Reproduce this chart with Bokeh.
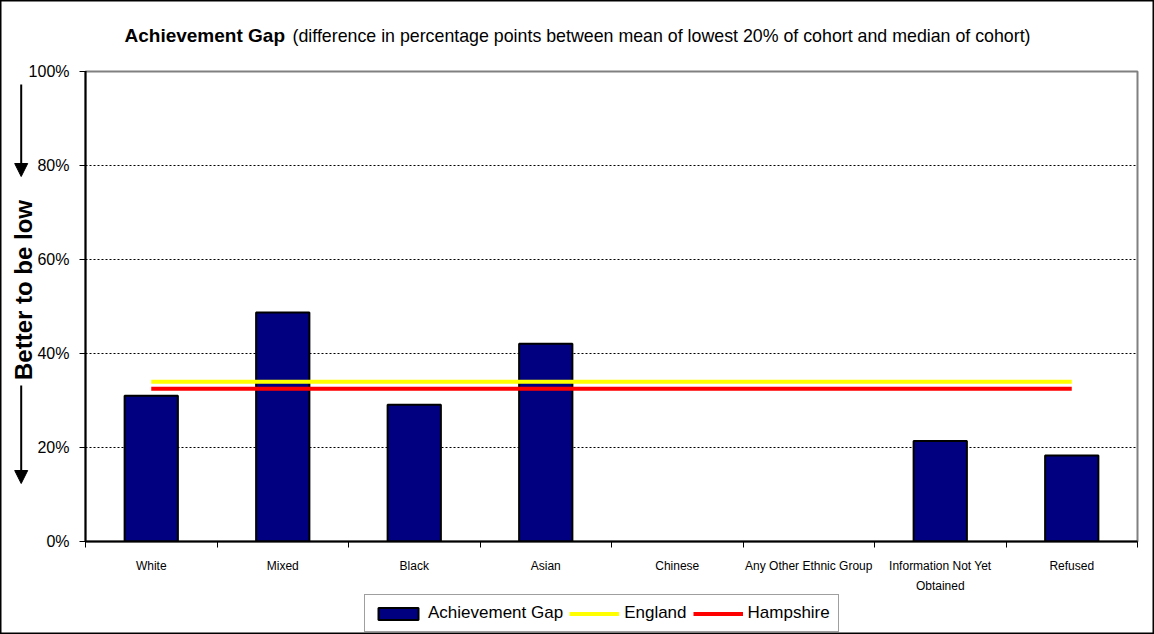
import numpy as np
from bokeh.plotting import figure
from bokeh.models import (Range1d, FixedTicker, PrintfTickFormatter, Label, Arrow,
                          NormalHead, Legend, LegendItem)
from bokeh.embed import file_html
from bokeh.resources import INLINE

# ---- data ----
categories = ["White", "Mixed", "Black", "Asian", "Chinese",
              "Any Other Ethnic Group", "Information Not Yet Obtained", "Refused"]
tick_labels = ["White", "Mixed", "Black", "Asian", "Chinese",
               "Any Other Ethnic Group", "Information Not Yet\nObtained", "Refused"]
achievement_gap = [31.0, 48.7, 29.1, 42.1, np.nan, np.nan, 21.4, 18.3]
england_value = 34.0
hampshire_value = 32.5
y_ticks = [0, 20, 40, 60, 80, 100]
series_names = ["Achievement Gap", "England", "Hampshire"]

FONT = "Liberation Sans"
W, H = 1154, 634
n = len(categories)
xpos = np.arange(n) + 0.5

BAR_STYLE = dict(fill_color="#000080", line_color="black", line_width=2)
ENG_STYLE = dict(line_color="#FFFF00", line_width=4)
HAM_STYLE = dict(line_color="#FF0000", line_width=4)

# ---------------- main chart ----------------
p = figure(width=W, height=H, x_range=Range1d(0, n), y_range=Range1d(0, 100),
           output_backend="svg", toolbar_location=None,
           min_border_left=85, min_border_right=17, min_border_top=71, min_border_bottom=93)
p.background_fill_color = "white"
p.border_fill_color = "white"
p.outline_line_color = "#808080"
p.outline_line_width = 2

p.vbar(x=xpos, top=achievement_gap, width=0.405, **BAR_STYLE)
p.line(x=xpos, y=[england_value] * n, **ENG_STYLE)
p.line(x=xpos, y=[hampshire_value] * n, **HAM_STYLE)

p.yaxis.ticker = FixedTicker(ticks=y_ticks)
p.yaxis.formatter = PrintfTickFormatter(format="%d%%")
p.yaxis.major_label_text_font = FONT
p.yaxis.major_label_text_font_size = "16px"
p.yaxis.major_label_text_color = "black"
p.yaxis.major_tick_out = 6
p.yaxis.major_tick_in = 1
p.yaxis.major_tick_line_color = "black"
p.yaxis.minor_tick_line_color = None
p.yaxis.major_label_standoff = 10
p.yaxis.axis_line_color = "black"
p.yaxis.axis_line_width = 2

p.xaxis.ticker = FixedTicker(ticks=list(xpos), minor_ticks=list(range(n + 1)))
p.xaxis.major_label_overrides = {float(x): lab for x, lab in zip(xpos, tick_labels)}
p.xaxis.major_tick_line_color = None
p.xaxis.major_tick_out = 6
p.xaxis.major_tick_in = 0
p.xaxis.minor_tick_out = 6
p.xaxis.minor_tick_in = 0
p.xaxis.minor_tick_line_color = "black"
p.xaxis.major_label_text_font = FONT
p.xaxis.major_label_text_font_size = "12px"
p.xaxis.major_label_text_color = "black"
p.xaxis.major_label_text_line_height = 1.45
p.xaxis.major_label_standoff = 11
p.xaxis.axis_line_color = "black"
p.xaxis.axis_line_width = 2

p.xgrid.grid_line_color = None
p.ygrid.grid_line_color = "black"
p.ygrid.grid_line_dash = "2 2"
p.ygrid.grid_line_width = 1

# ---------------- overlay (title, side note, legend, border) ----------------
o = figure(width=W, height=H, x_range=Range1d(0, W), y_range=Range1d(H, 0),
           x_axis_type=None, y_axis_type=None,
           output_backend="svg", toolbar_location=None,
           min_border=0, min_border_left=0, min_border_right=0,
           min_border_top=0, min_border_bottom=0)
o.background_fill_alpha = 0
o.border_fill_alpha = 0
o.outline_line_color = "black"
o.outline_line_width = 2
o.xgrid.grid_line_color = None
o.ygrid.grid_line_color = None
o.styles = {"position": "absolute", "left": "0px", "top": "0px", "pointer-events": "none"}

o.add_layout(Label(x=124, y=35, text="Achievement Gap",
                   text_font=FONT, text_font_size="19px", text_font_style="bold",
                   text_baseline="middle", text_color="black"))
o.add_layout(Label(x=292, y=35,
                   text="(difference in percentage points between mean of lowest 20% of cohort and median of cohort)",
                   text_font=FONT, text_font_size="17.8px",
                   text_baseline="middle", text_color="black"))
o.add_layout(Label(x=22.5, y=289.5, text="Better to be low",
                   angle=np.pi / 2, text_font=FONT, text_font_size="24px", text_font_style="bold",
                   text_align="center", text_baseline="middle", text_color="black"))
for ys, ye in [(84, 176), (385, 483)]:
    o.add_layout(Arrow(x_start=20.7, y_start=ys, x_end=20.7, y_end=ye,
                       line_color="black", line_width=2,
                       end=NormalHead(size=13, fill_color="black", line_color="black")))

# hidden legend proxies carrying the series styles into the legend
lg_bar = o.vbar(x=xpos, top=achievement_gap, width=0.405, visible=False, **BAR_STYLE)
lg_eng = o.line(x=xpos, y=[england_value] * n, visible=False, **ENG_STYLE)
lg_ham = o.line(x=xpos, y=[hampshire_value] * n, visible=False, **HAM_STYLE)
legend = Legend(items=[LegendItem(label=series_names[0], renderers=[lg_bar]),
                       LegendItem(label=series_names[1], renderers=[lg_eng]),
                       LegendItem(label=series_names[2], renderers=[lg_ham])],
                orientation="horizontal", location=(364, 2),
                glyph_width=50, glyph_height=15, label_standoff=5, spacing=6,
                padding=8, margin=0, label_text_font=FONT, label_text_font_size="17px",
                label_text_color="black", border_line_color="#404040", border_line_width=1,
                background_fill_color="white", background_fill_alpha=1)
o.add_layout(legend)

open("out.html", "w").write(file_html([p, o], INLINE))
